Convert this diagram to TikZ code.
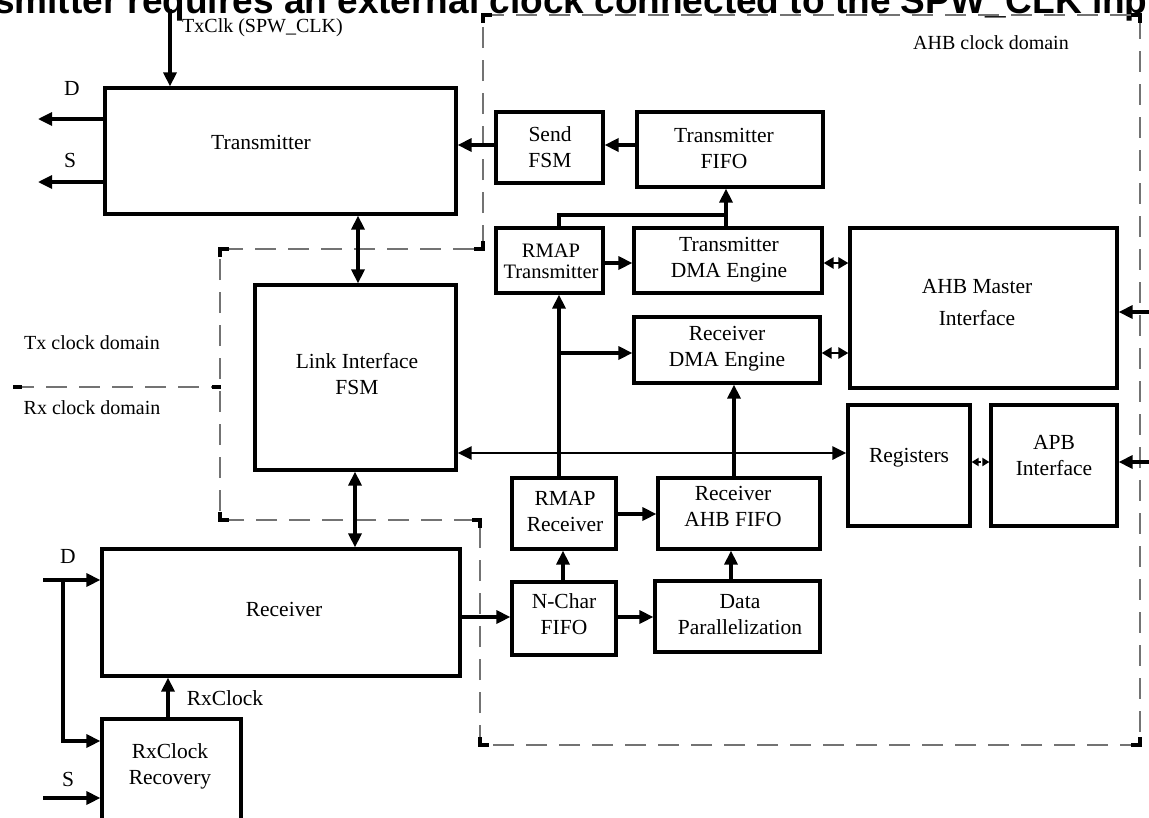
\documentclass[tikz,border=0pt]{standalone}
\usepackage{fontspec}
\setmainfont{Liberation Serif}
\newfontfamily\headfont{Liberation Sans}
\usetikzlibrary{arrows.meta}
\definecolor{dashgray}{gray}{0.45}

% block outline given by its corners (x1,y1) and (x2,y2)
\newcommand\blk[5]{%
  \node[box, minimum width={(#4-#2)*1pt}, minimum height={(#5-#3)*1pt}]
    (#1) at ({(#2+#4)/2},{(#3+#5)/2}) {};}

\begin{document}
\begin{tikzpicture}[x=1pt,y=-1pt,
  box/.style={draw, line width=3.2pt, inner sep=0pt},
  btext/.style={inner sep=0pt, align=center, font=\fontsize{21.5}{26}\selectfont},
  lbl/.style={inner sep=0pt, font=\fontsize{20}{24}\selectfont},
  wire/.style={line width=3.2pt},
  conn/.style={line width=3.2pt, -{Triangle[length=14pt,width=13pt]}},
  bi/.style={line width=3.2pt, {Triangle[length=14pt,width=13pt]}-{Triangle[length=14pt,width=13pt]}},
  smallbi/.style={line width=2.8pt, {Triangle[length=10pt,width=11pt]}-{Triangle[length=10pt,width=11pt]}},
  dotbi/.style={line width=2.6pt, dotted, {Triangle[length=7pt,width=8pt]}-{Triangle[length=7pt,width=8pt]}},
  clkzone/.style={draw=dashgray, line width=1.3pt, dash pattern=on 21pt off 12pt},
  cornermark/.style={line width=3.2pt},
]
\useasboundingbox (0,0) rectangle (1149,817);

% heading, partly outside the page
\node[anchor=base west, inner sep=0pt, font=\headfont\bfseries\fontsize{37}{40}\selectfont]
  (title) at (-152,13) {The transmitter requires an external clock connected to the SPW\_CLK input};

% clock domain boundaries
\draw[clkzone] (483,15) -- (1140,15) -- (1140,745) -- (480,745) -- (480,520)
  -- (220,520) -- (220,249) -- (483,249) -- cycle;
\draw[clkzone] (13,387) -- (220,387);
\draw[cornermark] (483,23) -- (483,15) -- (492,15);
\draw[cornermark] (1131,15) -- (1140,15) -- (1140,23);
\draw[cornermark] (1140,737) -- (1140,745) -- (1131,745);
\draw[cornermark] (480,737) -- (480,745) -- (489,745);
\draw[cornermark] (472,520) -- (480,520) -- (480,528);
\draw[cornermark] (220,512) -- (220,520) -- (229,520);
\draw[cornermark] (220,257) -- (220,249) -- (229,249);
\draw[cornermark] (483,241) -- (483,249) -- (474,249);
\draw[cornermark] (13,387) -- (22,387);
\draw[cornermark] (212,387) -- (221,387);

\node[lbl] (ahbdom) at (991,43) {AHB clock domain};
\node[lbl] (txdom) at (92,343) {Tx clock domain};
\node[lbl] (rxdom) at (92,408) {Rx clock domain};

% blocks
\blk{tx}{105}{88}{456}{214}
\blk{sendfsm}{496}{112}{603}{183}
\blk{txfifo}{637}{112}{823}{187}
\blk{rmaptx}{496}{228}{603}{293}
\blk{txdma}{634}{228}{822}{293}
\blk{ahbm}{850}{228}{1117}{388}
\blk{link}{255}{285}{456}{470}
\blk{rxdma}{634}{317}{820}{383}
\blk{regs}{848}{405}{970}{526}
\blk{apb}{991}{405}{1117}{526}
\blk{rmaprx}{512}{478}{616}{549}
\blk{rxfifo}{658}{478}{820}{549}
\blk{nchar}{512}{582}{616}{655}
\blk{datapar}{655}{581}{820}{652}
\blk{rx}{102}{549}{460}{676}
\blk{rxclk}{102}{719}{241}{840}

% block captions
\node[btext] (tx-t) at (261,142) {Transmitter};
\node[btext] (sendfsm-t) at (550,147) {Send\\FSM};
\node[btext] (txfifo-t) at (724,148) {Transmitter\\FIFO};
\node[btext, font=\fontsize{20.5}{21}\selectfont] (rmaptx-t) at (551,261) {RMAP\\Transmitter};
\node[btext] (txdma-t) at (729,260) {Transmitter\\DMA Engine};
\node[btext] (ahbm-t) at (977,303) {AHB Master\\[6pt]Interface};
\node[btext] (link-t) at (357,374) {Link Interface\\FSM};
\node[btext] (rxdma-t) at (727,349) {Receiver\\DMA Engine};
\node[btext] (regs-t) at (909,458) {Registers};
\node[btext] (apb-t) at (1054,456) {APB\\Interface};
\node[btext] (rmaprx-t) at (565,512) {RMAP\\Receiver};
\node[btext] (rxfifo-t) at (733,506) {Receiver\\AHB FIFO};
\node[btext] (nchar-t) at (564,614) {N-Char\\FIFO};
\node[btext] (datapar-t) at (740,615) {Data\\Parallelization};
\node[btext] (rx-t) at (284,609) {Receiver};
\node[btext] (rxclk-t) at (170,766) {RxClock\\Recovery};

% signal labels
\node[lbl, anchor=base west] (txclk-l) at (182,32) {TxClk (SPW\_CLK)};
\node[btext] (dout-l) at (72,88) {D};
\node[btext] (sout-l) at (70,160) {S};
\node[btext] (din-l) at (68,556) {D};
\node[btext] (sin-l) at (68,779) {S};
\node[btext] (rxclock-l) at (225,698) {RxClock};

% external ends of signals
\coordinate (clkin) at (170,9);
\coordinate (dout) at (38,119);
\coordinate (sout) at (38,182);
\coordinate (din) at (43,580);
\coordinate (dtap) at (63,580);
\coordinate (sin) at (43,798);
\coordinate (ahbin) at (1152,312);
\coordinate (apbin) at (1152,462);

% transmit path
\draw[conn] (clkin) -- (clkin |- tx.north);
\draw[conn] (tx.west |- dout) -- (dout);
\draw[conn] (tx.west |- sout) -- (sout);
\draw[conn] (sendfsm.west |- 0,145) -- (tx.east |- 0,145);
\draw[conn, line width=4pt] (txfifo.west |- 0,145) -- (sendfsm.east |- 0,145);
\draw[conn] (txdma.north -| 726,0) -- (txfifo.south -| 726,0);
\draw[wire] (rmaptx.north -| 559,0) |- (726,215);
\draw[conn] (rmaptx.east |- 0,263) -- (txdma.west |- 0,263);
\draw[smallbi] (txdma.east |- 0,263) -- (ahbm.west |- 0,263);
\draw[smallbi] (rxdma.east |- 0,353) -- (ahbm.west |- 0,353);

% link interface
\draw[bi] (tx.south -| 358,0) -- (link.north -| 358,0);
\draw[bi] (link.south -| 355,0) -- (rx.north -| 355,0);
\draw[bi, line width=2.8pt] (link.east |- 0,453) -- (regs.west |- 0,453);

% receive path
\draw[conn] (din) -- (rx.west |- din);
\draw[conn] (dtap) |- (rxclk.west |- 0,741);
\draw[conn] (sin) -- (rxclk.west |- sin);
\draw[conn] (rxclk.north -| 168,0) -- (rx.south -| 168,0);
\draw[conn] (rx.east |- 0,617) -- (nchar.west |- 0,617);
\draw[conn] (nchar.east |- 0,617) -- (datapar.west |- 0,617);
\draw[conn] (nchar.north -| 563,0) -- (rmaprx.south -| 563,0);
\draw[conn] (datapar.north -| 731,0) -- (rxfifo.south -| 731,0);
\draw[conn] (rmaprx.east |- 0,514) -- (rxfifo.west |- 0,514);
\draw[conn] (rxfifo.north -| 734,0) -- (rxdma.south -| 734,0);
\draw[conn] (rmaprx.north -| 559,0) -- (rmaptx.south -| 559,0);
\draw[conn] (559,353) -- (rxdma.west |- 0,353);

% bus side
\draw[conn] (ahbin) -- (ahbm.east |- ahbin);
\draw[conn] (apbin) -- (apb.east |- apbin);
\draw[dotbi] (regs.east |- 0,462) -- (apb.west |- 0,462);
\end{tikzpicture}
\end{document}
